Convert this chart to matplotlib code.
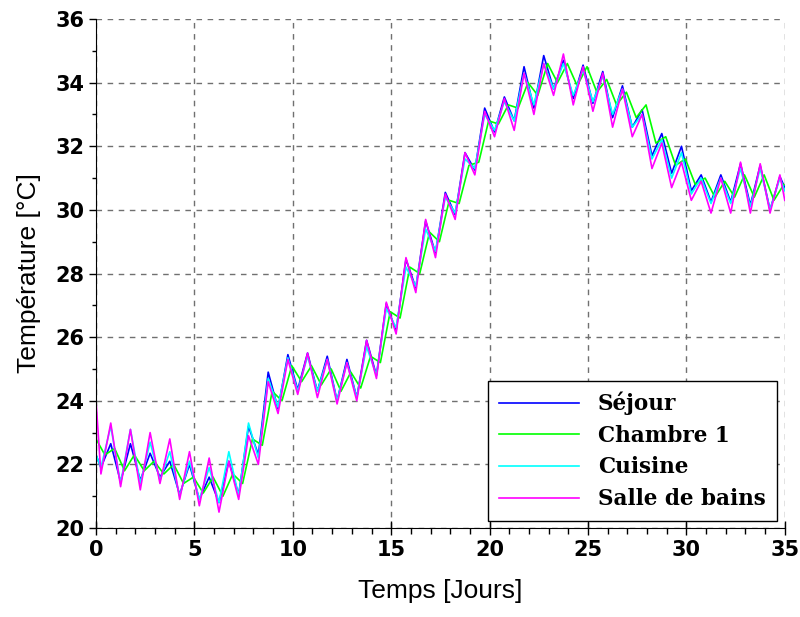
import numpy as np
import matplotlib
matplotlib.use("Agg")
import matplotlib.pyplot as plt
from matplotlib.ticker import MultipleLocator

# sampling grid: start, then trough/peak points every half day, then end
t_days = [0.0] + [d + h for d in range(35) for h in (0.25, 0.75)] + [35.0]
t_chambre = [0.0] + [d + h for d in range(35) for h in (0.45, 0.95)]

sejour = [22.3,
          21.9, 22.65, 21.45, 22.65, 21.5, 22.35, 21.6, 22.1, 21.05, 22.0,
          20.9, 21.6, 20.8, 22.1, 21.05, 23.2, 22.3, 24.9, 23.75, 25.45,
          24.35, 25.5, 24.3, 25.4, 24.0, 25.3, 24.1, 25.9, 24.8, 27.05,
          26.2, 28.45, 27.55, 29.65, 28.65, 30.55, 29.85, 31.8, 31.25, 33.2,
          32.45, 33.55, 32.8, 34.5, 33.2, 34.85, 33.8, 34.7, 33.5, 34.55,
          33.35, 34.35, 32.9, 33.9, 32.6, 33.15, 31.7, 32.4, 31.15, 32.0,
          30.6, 31.1, 30.25, 31.1, 30.25, 31.45, 30.15, 31.4, 30.0, 31.05,
          30.7]

chambre = [22.8,
           22.3, 22.5, 21.8, 22.3, 21.8, 22.1, 21.7, 22.0, 21.4, 21.6,
           21.1, 21.6, 21.0, 21.7, 21.4, 22.8, 22.6, 24.3, 24.0, 25.1,
           24.6, 25.1, 24.5, 25.0, 24.3, 24.9, 24.4, 25.4, 25.2, 26.8,
           26.6, 28.2, 28.0, 29.3, 29.0, 30.3, 30.2, 31.4, 31.5, 32.8,
           32.7, 33.3, 33.2, 34.0, 33.6, 34.6, 34.0, 34.6, 33.9, 34.5,
           33.7, 34.1, 33.3, 33.7, 32.9, 33.3, 32.1, 32.3, 31.4, 31.6,
           30.8, 31.0, 30.4, 30.9, 30.4, 31.1, 30.4, 31.1, 30.3, 30.8]

cuisine = [22.3,
           21.9, 23.2, 21.4, 23.1, 21.4, 22.7, 21.5, 22.4, 21.0, 22.1,
           20.9, 21.9, 20.8, 22.4, 21.0, 23.3, 22.2, 24.7, 23.8, 25.35,
           24.3, 25.4, 24.3, 25.3, 24.0, 25.2, 24.1, 25.7, 24.8, 26.9,
           26.3, 28.2, 27.6, 29.4, 28.7, 30.4, 29.9, 31.6, 31.3, 33.0,
           32.5, 33.4, 32.8, 34.3, 33.3, 34.6, 33.8, 34.6, 33.6, 34.4,
           33.4, 34.2, 33.0, 33.8, 32.6, 33.0, 31.6, 32.2, 31.0, 31.8,
           30.5, 31.0, 30.2, 31.0, 30.2, 31.3, 30.1, 31.3, 30.0, 31.0,
           30.6]

salle_de_bains = [24.0,
                  21.7, 23.3, 21.3, 23.1, 21.2, 23.0, 21.4, 22.8, 20.9, 22.4,
                  20.7, 22.2, 20.5, 22.1, 20.9, 22.9, 22.0, 24.6, 23.6, 25.3,
                  24.2, 25.5, 24.1, 25.3, 23.9, 25.2, 24.0, 25.9, 24.7, 27.1,
                  26.1, 28.5, 27.4, 29.7, 28.5, 30.5, 29.7, 31.8, 31.1, 33.1,
                  32.3, 33.5, 32.5, 34.3, 33.0, 34.6, 33.6, 34.9, 33.3, 34.5,
                  33.1, 34.3, 32.6, 33.8, 32.3, 33.0, 31.3, 32.1, 30.7, 31.5,
                  30.3, 30.9, 29.9, 31.0, 29.9, 31.5, 29.9, 31.45, 29.9, 31.1,
                  30.3]

noms = ["Séjour", "Chambre 1", "Cuisine", "Salle de bains"]
couleurs = ["#0000ff", "#00ff00", "#00ffff", "#ff00ff"]

fig = plt.figure(figsize=(8, 6.17), dpi=100)
ax = fig.add_axes([0.12, 0.1442, 0.861, 0.825])

series = [(t_days, sejour), (t_chambre, chambre), (t_days, cuisine), (t_days, salle_de_bains)]
for (tt, yy), nom, c in zip(series, noms, couleurs):
    ax.plot(tt, yy, color=c, linewidth=1.2, label=nom)

ax.set_xlim(0, 35)
ax.set_ylim(20, 36)
ax.xaxis.set_major_locator(MultipleLocator(5))
ax.xaxis.set_minor_locator(MultipleLocator(1))
ax.yaxis.set_major_locator(MultipleLocator(2))
ax.yaxis.set_minor_locator(MultipleLocator(1))

ax.grid(True, which="major", color="#707070", linestyle=(0, (4, 4)), linewidth=1.0)
ax.spines["top"].set_visible(False)
ax.spines["right"].set_visible(False)
ax.tick_params(axis="x", which="major", direction="inout", length=10, width=1)
ax.tick_params(axis="x", which="minor", direction="out", length=4, width=1)
ax.tick_params(axis="y", which="major", direction="out", length=5, width=1)
ax.tick_params(axis="y", which="minor", direction="out", length=3, width=1)
for lab in ax.get_xticklabels() + ax.get_yticklabels():
    lab.set_family("DejaVu Sans")
    lab.set_fontweight("bold")
    lab.set_fontsize(15)

ax.set_xlabel("Temps [Jours]", family="Liberation Sans", fontsize=19, labelpad=14)
ax.set_ylabel("Température [°C]", family="Liberation Sans", fontsize=19, labelpad=10)

leg = ax.legend(loc="lower right", bbox_to_anchor=(0.988, 0.014), borderaxespad=0,
                fancybox=False, framealpha=1, edgecolor="black", handlelength=3.7,
                prop={"family": "DejaVu Serif", "weight": "bold", "size": 15.5},
                labelspacing=0.45, handletextpad=0.9, borderpad=0.5)
leg.get_frame().set_linewidth(1.0)

fig.savefig("out.png", dpi=100)
